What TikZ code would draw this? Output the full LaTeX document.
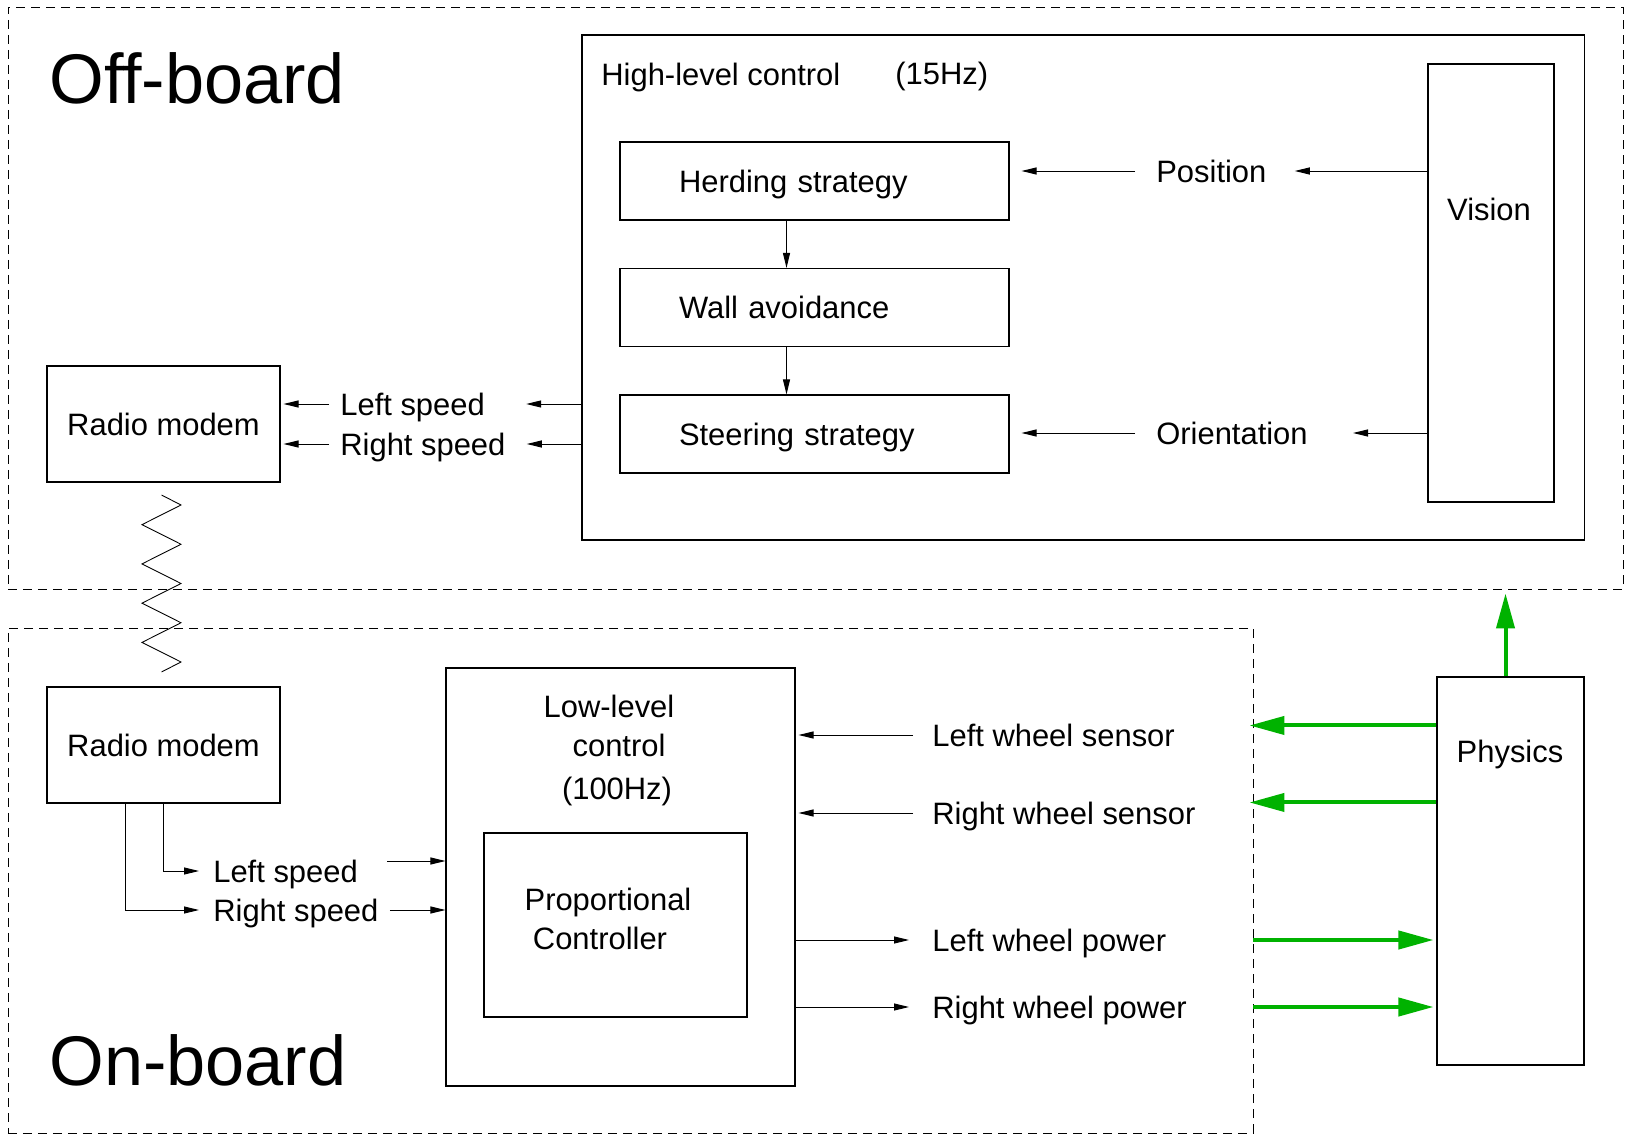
\documentclass[tikz,border=0pt]{standalone}
\usepackage{fontspec}
\setmainfont{Liberation Sans}
\usetikzlibrary{arrows.meta,calc}
\definecolor{simgreen}{RGB}{0,178,0}

\tikzset{
  block/.style={draw, line width=0.6pt, inner sep=0pt},
  zone/.style={draw, line width=0.5pt, dash pattern=on 1.8mm off 1.2mm, inner sep=0pt},
  txt/.style={inner sep=0pt, text depth=0pt, font=\fontsize{17.6pt}{21pt}\selectfont},
  bigtxt/.style={inner sep=0pt, font=\fontsize{40pt}{48pt}\selectfont},
  stratbox/.style={block, txt, minimum height=15.6mm, inner xsep=11.8mm, text width=54.2mm, align=left},
  sig/.style={-{Triangle[length=3mm,width=1.4mm]}, line width=0.55pt},
  flow/.style={-{Triangle[length=7mm,width=3.6mm]}, simgreen, line width=2.3pt},
}

\begin{document}
\begin{tikzpicture}[x=0.2mm, y=-0.2mm]
    \useasboundingbox (0,0) rectangle (1626,1135);

    % Off-board / on-board zones
    \node[zone, minimum width=323mm, minimum height=116.4mm] (offb) at (815.5,298) {};
    \node[zone, minimum width=249mm, minimum height=101mm] (onb) at (630.5,880.5) {};
    \node[bigtxt, anchor=base west] (offtxt) at (49,104) {Off-board};
    \node[bigtxt, anchor=base west] (ontxt) at (49,1085) {On-board};

    % High-level control
    \node[block, minimum width=200.4mm, minimum height=101mm] (hlc) at (1083,287.5) {};
    \node[txt, anchor=west] (hltxt) at (601,74) {High-level control};
    \node[txt, anchor=west] (hz) at (895,73) {(15Hz)};
    \node[stratbox] (herd) at (814.5,181) {Herding strategy};
    \node[stratbox] (wall) at (814.5,307.5) {Wall avoidance};
    \node[stratbox] (steer) at (814.5,434) {Steering strategy};
    \node[block, minimum width=25.2mm, minimum height=87.6mm] (vision) at (1491,283) {};
    \node[txt] (vistxt) at (1489,209) {Vision};
    \node[txt, anchor=west] (pos) at (1156,171) {Position};
    \node[txt, anchor=west] (ori) at (1156,433) {Orientation};

    \draw[sig] ($(herd.south)+(-28,0)$) -- ($(wall.north)+(-28,0)$);
    \draw[sig] ($(wall.south)+(-28,0)$) -- ($(steer.north)+(-28,0)$);
    \draw[sig, shorten >=5.6mm] (vision.west |- pos) -- (pos.east);
    \draw[sig, shorten <=4.2mm, shorten >=2.4mm] (pos.west) -- (herd.east |- pos);
    \draw[sig, shorten >=9mm] (vision.west |- ori) -- (ori.east);
    \draw[sig, shorten <=4.2mm, shorten >=2.4mm] (ori.west) -- (steer.east |- ori);

    % Radio link
    \node[block, txt, minimum width=46.6mm, minimum height=23.2mm] (radio1) at (163.5,424) {Radio modem};
    \node[block, txt, minimum width=46.6mm, minimum height=23.2mm] (radio2) at (163.5,745) {Radio modem};
    \node[txt, anchor=west] (lsp) at (340,404) {Left speed};
    \node[txt, anchor=west] (rsp) at (340,444) {Right speed};
    \draw[sig, shorten >=8.2mm] (hlc.west |- lsp) -- (lsp.east);
    \draw[sig, shorten >=4.2mm] (hlc.west |- rsp) -- (rsp.east);
    \draw[sig, shorten <=2.2mm, shorten >=0.6mm] (lsp.west) -- (radio1.east |- lsp);
    \draw[sig, shorten <=2.2mm, shorten >=0.6mm] (rsp.west) -- (radio1.east |- rsp);
    \draw[line width=0.5pt] (161.5,495) -- (181,505)
        \foreach \k in {1,...,4} { -- (142,{505+39.25*\k-19.6}) -- (181,{505+39.25*\k}) }
        -- (161.5,672);

    % Low-level control
    \node[block, minimum width=69.8mm, minimum height=83.6mm] (low) at (620.5,877) {};
    \node[txt] (lowa) at (609,706) {Low-level};
    \node[txt] (lowb) at (619,745) {control};
    \node[txt] (lowc) at (617,788) {(100Hz)};
    \node[block, minimum width=52.6mm, minimum height=36.8mm] (prop) at (615.5,925) {};
    \node[txt] (propa) at (608,899) {Proportional};
    \node[txt] (propb) at (600,938) {Controller};

    \node[txt, anchor=west] (lsp2) at (213,871) {Left speed};
    \node[txt, anchor=west] (rsp2) at (213,910) {Right speed};
    \draw[sig, shorten >=2.8mm] (radio2.south) |- (lsp2.west);
    \draw[sig, shorten >=2.8mm] ($(radio2.south)+(-38,0)$) |- (rsp2.west);
    \coordinate (lin) at ($(lsp2.east)+(29,-10)$);
    \draw[sig] (lin) -- (lin -| low.west);
    \draw[sig, shorten <=2.2mm] (rsp2.east) -- (low.west |- rsp2);

    \node[txt, anchor=west] (lws) at (932,735) {Left wheel sensor};
    \node[txt, anchor=west] (rws) at (932,813) {Right wheel sensor};
    \node[txt, anchor=west] (lwp) at (932,940) {Left wheel power};
    \node[txt, anchor=west] (rwp) at (932,1007) {Right wheel power};
    \draw[sig, shorten <=3.8mm, shorten >=0.6mm] (lws.west) -- (low.east |- lws);
    \draw[sig, shorten <=3.8mm, shorten >=0.6mm] (rws.west) -- (low.east |- rws);
    \draw[sig, shorten >=4.6mm] (low.east |- lwp) -- (lwp.west);
    \draw[sig, shorten >=4.6mm] (low.east |- rwp) -- (rwp.west);

    % Physics
    \node[block, minimum width=29.4mm, minimum height=77.6mm] (phys) at (1510.5,871) {};
    \node[txt] (phystxt) at (1510,751) {Physics};
    \coordinate (gl) at ($(phys.north west)+(0,49)$);
    \coordinate (gr) at ($(phys.north west)+(0,126)$);
    \coordinate (up) at ($(phys.north)+(-5,0)$);
    \draw[flow, shorten >=-0.8mm] (gl) -- (gl -| onb.east);
    \draw[flow, shorten >=-0.8mm] (gr) -- (gr -| onb.east);
    \draw[flow, shorten >=0.6mm] (onb.east |- lwp) -- (phys.west |- lwp);
    \draw[flow, shorten >=0.6mm] (onb.east |- rwp) -- (phys.west |- rwp);
    \draw[flow, shorten >=0.8mm] (up) -- (up |- offb.south);
\end{tikzpicture}
\end{document}
